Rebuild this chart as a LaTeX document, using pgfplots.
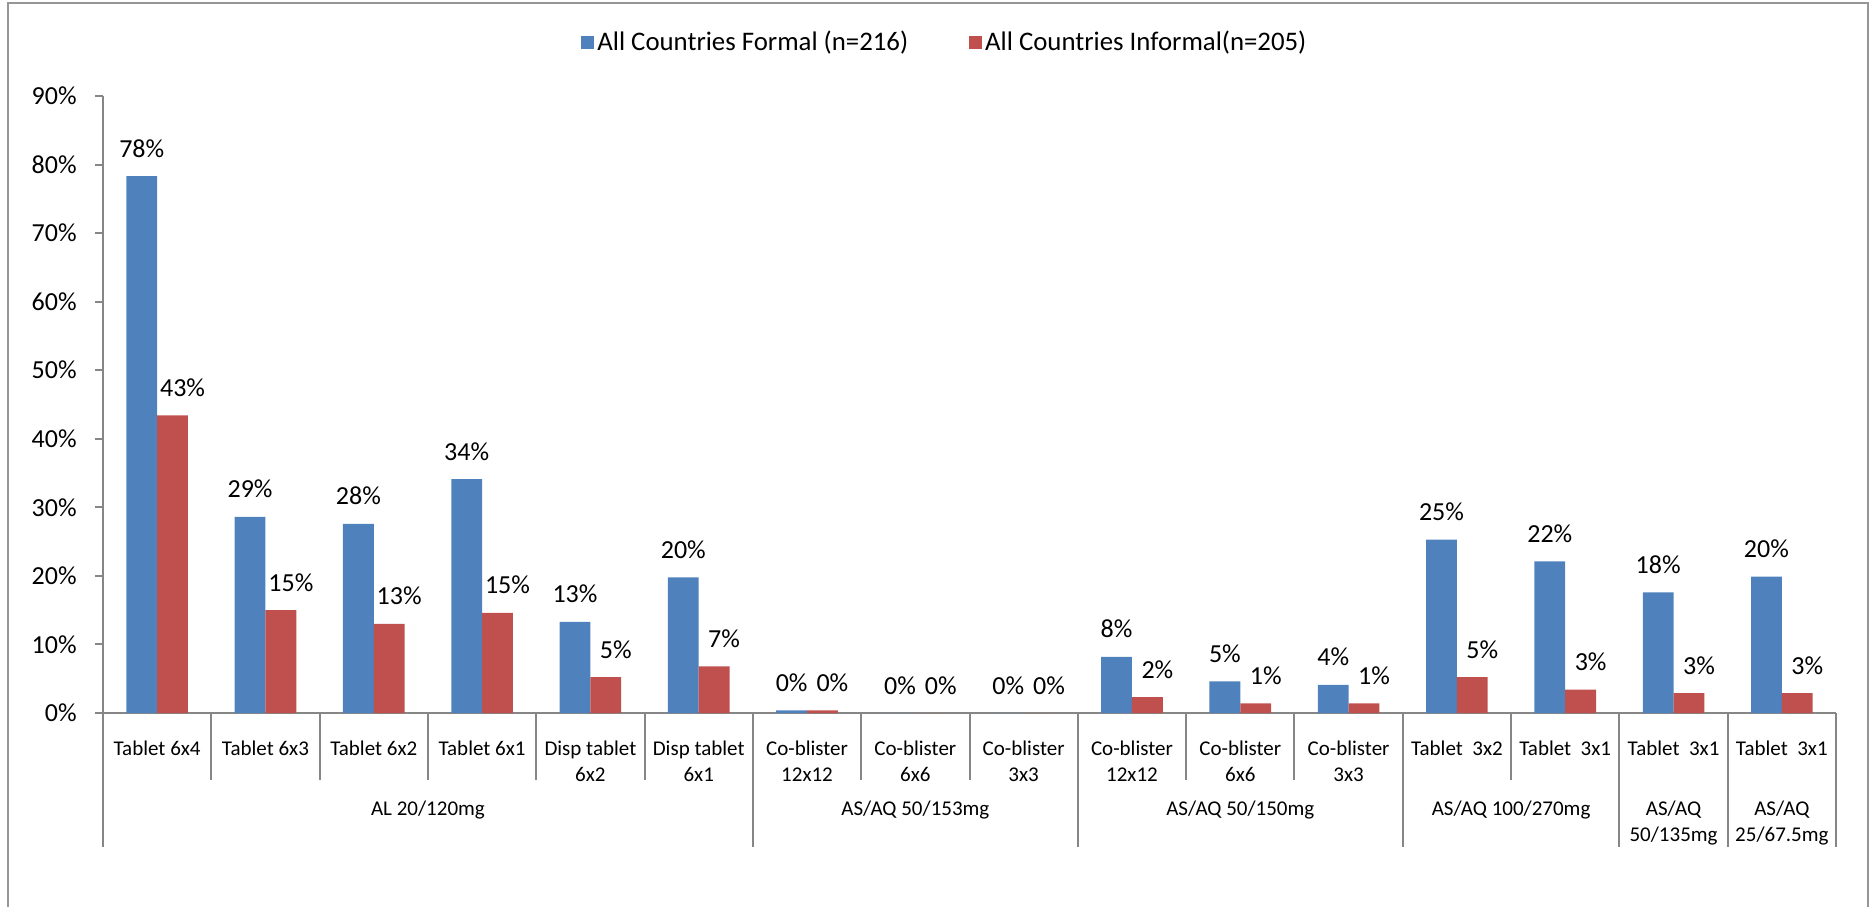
\documentclass[border=0pt]{standalone}
\usepackage{fontspec}
\setmainfont{Carlito}
\usepackage{pgfplots}
\usepackage{pgfplotstable}
\pgfplotsset{compat=1.18}
\definecolor{barblue}{RGB}{79,129,189}
\definecolor{barred}{RGB}{192,80,77}
\definecolor{axgray}{RGB}{134,134,134}
\definecolor{framegray}{RGB}{150,150,150}

\pgfplotstableread{
idx F Fl I Il
0 78.3 78 43.4 43
1 28.6 29 15.0 15
2 27.6 28 13.0 13
3 34.1 34 14.6 15
4 13.3 13 5.25 5
5 19.8 20 6.8 7
6 0.4 0 0.4 0
7 0 0 0 0
8 0 0 0 0
9 8.2 8 2.3 2
10 4.6 5 1.4 1
11 4.1 4 1.4 1
12 25.3 25 5.25 5
13 22.1 22 3.4 3
14 17.6 18 2.9 3
15 19.9 20 2.9 3
}\datatab

\begin{document}
\begin{tikzpicture}
\useasboundingbox (0,0) rectangle (936pt,453pt);
\draw[framegray, line width=1pt] (4pt,-10pt) -- (4pt,451.5pt) -- (934pt,451.5pt) -- (934pt,-10pt);
\begin{axis}[
  at={(51.5pt,96.5pt)}, anchor=south west,
  scale only axis, width=866.5pt, height=308.5pt,
  xmin=-0.5, xmax=15.5, ymin=0, ymax=90,
  axis x line*=bottom, axis y line*=left,
  axis line style={axgray, line width=1pt, -},
  ybar, bar width=0.2844,
  ytick={0,10,...,90},
  yticklabel={\pgfmathprintnumber{\tick}\%},
  /pgf/number format/assume math mode=true,
  tick align=outside, major tick length=4pt,
  ytick style={axgray, line width=1pt},
  xtick={0,...,15}, xtick style={draw=none},
  xticklabels={{Tablet 6x4\\{}},{Tablet 6x3\\{}},{Tablet 6x2\\{}},{Tablet 6x1\\{}},{Disp tablet\\6x2},{Disp tablet\\6x1},{Co-blister\\12x12},{Co-blister\\6x6},{Co-blister\\3x3},{Co-blister\\12x12},{Co-blister\\6x6},{Co-blister\\3x3},{Tablet\ \ 3x2\\{}},{Tablet\ \ 3x1\\{}},{Tablet\ \ 3x1\\{}},{Tablet\ \ 3x1\\{}}},
  xticklabel style={font=\fontsize{10.5}{13}\selectfont, align=center, anchor=base, inner sep=0pt, yshift=-30pt},
  yticklabel style={font=\fontsize{13}{15.6}\selectfont, inner sep=0pt, xshift=-9pt},
  clip=false,
  nodes near coords={\pgfplotspointmeta\%},
  every node near coord/.append style={font=\fontsize{13}{15.6}\selectfont, anchor=base, inner sep=0pt, yshift=9.5pt, black},
  legend columns=2,
  legend style={at={(0.2758,1)}, anchor=west, yshift=27pt, draw=none, fill=none, inner sep=0pt,
    font=\fontsize{13.4}{16}\selectfont, nodes={inner sep=1.5pt},
    /tikz/every even column/.append style={column sep=29pt}},
  sqlegend/.style={legend image code/.code={\fill[##1] (0pt,-3.25pt) rectangle (6.5pt,3.25pt);}},
]
\addplot[fill=barblue, draw=none, bar shift=-0.1422, point meta=explicit symbolic, sqlegend] table[x=idx, y=F, meta=Fl] {\datatab};
\addlegendentry{All Countries Formal (n=216)}
\addplot[fill=barred, draw=none, bar shift=0.1422, point meta=explicit symbolic, sqlegend, every node near coord/.append style={xshift=5pt}] table[x=idx, y=I, meta=Il] {\datatab};
\addlegendentry{All Countries Informal(n=205)}

\pgfplotsinvokeforeach{0.5,1.5,2.5,3.5,4.5,6.5,7.5,9.5,10.5,12.5}{
  \draw[axgray, line width=1pt] (axis cs:#1,0) -- ++(0pt,-33.5pt);
}
\pgfplotsinvokeforeach{-0.5,5.5,8.5,11.5,13.5,14.5,15.5}{
  \draw[axgray, line width=1pt] (axis cs:#1,0) -- ++(0pt,-67pt);
}
\begin{scope}[every node/.style={font=\fontsize{10.5}{13.3}\selectfont, align=center, anchor=base, inner sep=0pt}]
\node[yshift=-51pt] at (axis cs:2.5,0) {AL 20/120mg};
\node[yshift=-51pt] at (axis cs:7,0) {AS/AQ 50/153mg};
\node[yshift=-51pt] at (axis cs:10,0) {AS/AQ 50/150mg};
\node[yshift=-51pt] at (axis cs:12.5,0) {AS/AQ 100/270mg};
\node[yshift=-64.3pt] at (axis cs:14,0) {AS/AQ\\50/135mg};
\node[yshift=-64.3pt] at (axis cs:15,0) {AS/AQ\\25/67.5mg};
\end{scope}
\end{axis}
\end{tikzpicture}
\end{document}
